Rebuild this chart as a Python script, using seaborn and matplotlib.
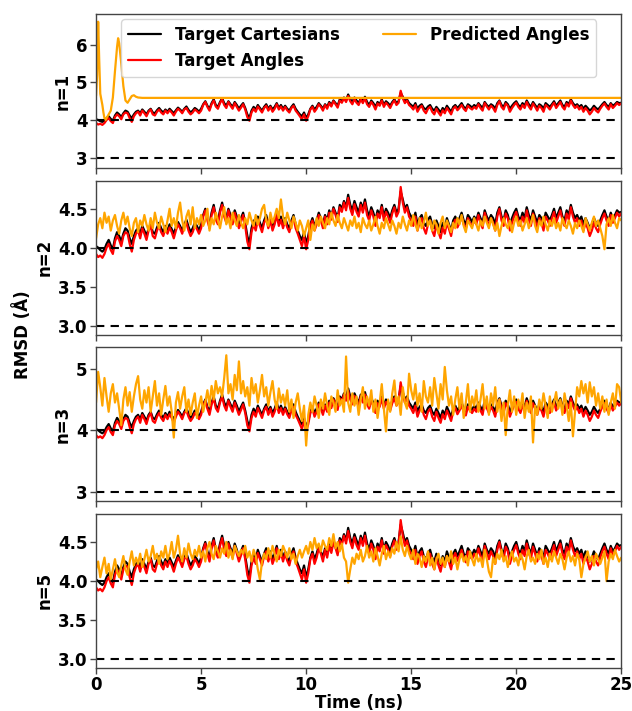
import numpy as np
import pandas as pd
import matplotlib
matplotlib.use("Agg")
import matplotlib.pyplot as plt
import seaborn as sns

# ---------------- data ----------------
time_ns = np.round(np.arange(251) * 0.1, 2)

target_cartesians = [
    4.02, 4.00, 3.97, 3.95, 3.98, 4.05, 4.10, 4.03, 3.98, 4.12,
    4.20, 4.15, 4.08, 4.18, 4.25, 4.22, 4.12, 4.05, 4.15, 4.22,
    4.25, 4.18, 4.28, 4.22, 4.15, 4.25, 4.30, 4.20, 4.18, 4.26,
    4.32, 4.25, 4.20, 4.28, 4.22, 4.30, 4.24, 4.18, 4.26, 4.33,
    4.28, 4.22, 4.30, 4.36, 4.27, 4.20, 4.25, 4.32, 4.28, 4.22,
    4.30, 4.42, 4.50, 4.38, 4.30, 4.45, 4.55, 4.40, 4.35, 4.48,
    4.58, 4.45, 4.38, 4.50, 4.42, 4.35, 4.48, 4.40, 4.30, 4.38,
    4.45, 4.32, 4.15, 4.05, 4.25, 4.35, 4.28, 4.40, 4.32, 4.25,
    4.35, 4.42, 4.30, 4.38, 4.28, 4.35, 4.45, 4.32, 4.40, 4.30,
    4.38, 4.30, 4.25, 4.35, 4.42, 4.30, 4.22, 4.15, 4.10, 4.20,
    4.05, 4.15, 4.30, 4.38, 4.28, 4.35, 4.45, 4.38, 4.30, 4.42,
    4.35, 4.48, 4.40, 4.52, 4.45, 4.38, 4.55, 4.50, 4.60, 4.52,
    4.68, 4.55, 4.48, 4.60, 4.52, 4.45, 4.58, 4.50, 4.62, 4.48,
    4.40, 4.52, 4.45, 4.35, 4.48, 4.42, 4.55, 4.40, 4.50, 4.45,
    4.38, 4.48, 4.55, 4.45, 4.50, 4.72, 4.62, 4.50, 4.55, 4.45,
    4.40, 4.35, 4.45, 4.30, 4.38, 4.42, 4.32, 4.28, 4.36, 4.40,
    4.30, 4.25, 4.35, 4.28, 4.20, 4.32, 4.25, 4.38, 4.30, 4.22,
    4.35, 4.40, 4.32, 4.38, 4.45, 4.35, 4.30, 4.42, 4.38, 4.33,
    4.40, 4.35, 4.45, 4.38, 4.32, 4.48, 4.40, 4.35, 4.42, 4.38,
    4.30, 4.45, 4.52, 4.40, 4.35, 4.48, 4.42, 4.30, 4.38, 4.45,
    4.50, 4.40, 4.35, 4.45, 4.38, 4.52, 4.42, 4.35, 4.48, 4.40,
    4.32, 4.42, 4.38, 4.30, 4.45, 4.40, 4.35, 4.42, 4.50, 4.38,
    4.45, 4.52, 4.40, 4.35, 4.48, 4.42, 4.55, 4.45, 4.38, 4.42,
    4.35, 4.40, 4.30, 4.38, 4.32, 4.25, 4.30, 4.38, 4.32, 4.28,
    4.35, 4.42, 4.48, 4.40, 4.35, 4.45, 4.38, 4.42, 4.48, 4.45, 4.46,
]

target_angles = [
    3.92, 3.88, 3.90, 3.87, 3.92, 4.00, 4.05, 3.97, 3.92, 4.08,
    4.15, 4.10, 4.02, 4.15, 4.20, 4.18, 4.05, 3.95, 4.10, 4.18,
    4.22, 4.12, 4.25, 4.18, 4.10, 4.22, 4.28, 4.15, 4.12, 4.22,
    4.28, 4.20, 4.15, 4.25, 4.18, 4.26, 4.20, 4.12, 4.22, 4.30,
    4.25, 4.18, 4.28, 4.32, 4.22, 4.15, 4.20, 4.28, 4.24, 4.18,
    4.25, 4.40, 4.48, 4.35, 4.25, 4.42, 4.52, 4.36, 4.30, 4.45,
    4.55, 4.40, 4.32, 4.48, 4.38, 4.30, 4.45, 4.35, 4.25, 4.33,
    4.42, 4.28, 4.08, 3.98, 4.20, 4.30, 4.22, 4.36, 4.28, 4.20,
    4.32, 4.38, 4.25, 4.35, 4.22, 4.30, 4.42, 4.28, 4.36, 4.25,
    4.35, 4.26, 4.20, 4.32, 4.38, 4.25, 4.18, 4.10, 4.02, 4.15,
    3.98, 4.10, 4.28, 4.35, 4.22, 4.30, 4.42, 4.35, 4.25, 4.40,
    4.30, 4.45, 4.36, 4.50, 4.42, 4.33, 4.52, 4.46, 4.58, 4.48,
    4.64, 4.50, 4.42, 4.56, 4.46, 4.40, 4.55, 4.45, 4.58, 4.42,
    4.35, 4.48, 4.40, 4.28, 4.44, 4.38, 4.52, 4.35, 4.46, 4.40,
    4.32, 4.44, 4.52, 4.40, 4.46, 4.78, 4.58, 4.45, 4.52, 4.40,
    4.35, 4.28, 4.40, 4.22, 4.32, 4.38, 4.25, 4.18, 4.30, 4.35,
    4.22, 4.15, 4.30, 4.20, 4.12, 4.26, 4.18, 4.32, 4.24, 4.15,
    4.30, 4.36, 4.26, 4.32, 4.40, 4.30, 4.24, 4.38, 4.32, 4.28,
    4.35, 4.30, 4.42, 4.32, 4.25, 4.45, 4.36, 4.28, 4.38, 4.32,
    4.22, 4.40, 4.50, 4.35, 4.28, 4.44, 4.38, 4.22, 4.32, 4.40,
    4.46, 4.35, 4.28, 4.40, 4.32, 4.48, 4.36, 4.28, 4.44, 4.35,
    4.25, 4.38, 4.32, 4.22, 4.40, 4.35, 4.28, 4.38, 4.46, 4.32,
    4.40, 4.48, 4.35, 4.28, 4.44, 4.36, 4.52, 4.40, 4.32, 4.38,
    4.28, 4.35, 4.22, 4.32, 4.25, 4.15, 4.22, 4.32, 4.25, 4.20,
    4.30, 4.38, 4.44, 4.35, 4.28, 4.42, 4.32, 4.38, 4.45, 4.40, 4.44,
]

# Predicted angles, n=1 (smooth curve, own time grid)
pred_n1_time = [0.0, 0.05, 0.1, 0.15, 0.2, 0.25, 0.3, 0.35, 0.4, 0.45, 0.5,
                0.6, 0.7, 0.8, 0.9, 1.0, 1.05, 1.1, 1.2, 1.3, 1.4, 1.5,
                1.6, 1.7, 1.8, 1.9, 2.0, 2.2, 2.5, 3.0, 5.0, 10.0, 15.0, 20.0, 25.0]
pred_n1 = [4.65, 5.20, 6.62, 5.60, 4.70, 4.55, 4.40, 4.20, 4.05, 4.00, 4.05,
           4.15, 4.25, 4.60, 5.30, 5.95, 6.18, 6.05, 5.50, 4.90, 4.52, 4.46,
           4.55, 4.64, 4.66, 4.62, 4.60, 4.59, 4.59, 4.59, 4.59, 4.59, 4.59, 4.59, 4.59]

pred_n2 = [
    4.12, 4.30, 4.38, 4.25, 4.45, 4.32, 4.40, 4.22, 4.35, 4.42,
    4.28, 4.18, 4.35, 4.45, 4.30, 4.40, 4.25, 4.15, 4.32, 4.38,
    4.20, 4.35, 4.28, 4.42, 4.30, 4.22, 4.38, 4.25, 4.45, 4.32,
    4.25, 4.40, 4.30, 4.20, 4.35, 4.50, 4.28, 4.38, 4.25, 4.45,
    4.58, 4.35, 4.22, 4.40, 4.48, 4.30, 4.52, 4.25, 4.38, 4.30,
    4.42, 4.28, 4.35, 4.50, 4.22, 4.38, 4.30, 4.45, 4.35, 4.25,
    4.40, 4.52, 4.30, 4.38, 4.25, 4.45, 4.35, 4.28, 4.42, 4.32,
    4.25, 4.38, 4.30, 4.45, 4.35, 4.28, 4.42, 4.30, 4.38, 4.50,
    4.55, 4.35, 4.28, 4.45, 4.32, 4.40, 4.50, 4.38, 4.62, 4.40,
    4.30, 4.45, 4.35, 4.25, 4.40, 4.32, 4.22, 4.35, 4.28, 4.15,
    4.25, 4.35, 4.10, 4.30, 4.22, 4.38, 4.28, 4.40, 4.32, 4.25,
    4.38, 4.30, 4.45, 4.35, 4.28, 4.42, 4.32, 4.25, 4.38, 4.30,
    4.22, 4.35, 4.28, 4.40, 4.25, 4.32, 4.20, 4.38, 4.30, 4.25,
    4.35, 4.22, 4.30, 4.40, 4.28, 4.18, 4.32, 4.25, 4.38, 4.30,
    4.22, 4.35, 4.28, 4.18, 4.32, 4.25, 4.40, 4.30, 4.22, 4.35,
    4.28, 4.42, 4.30, 4.22, 4.38, 4.25, 4.32, 4.45, 4.28, 4.35,
    4.22, 4.35, 4.30, 4.18, 4.32, 4.40, 4.25, 4.35, 4.28, 4.20,
    4.32, 4.25, 4.38, 4.30, 4.42, 4.28, 4.20, 4.35, 4.30, 4.25,
    4.38, 4.30, 4.22, 4.35, 4.28, 4.40, 4.32, 4.25, 4.38, 4.30,
    4.22, 4.32, 4.15, 4.28, 4.38, 4.30, 4.25, 4.35, 4.20, 4.32,
    4.40, 4.28, 4.35, 4.22, 4.30, 4.38, 4.25, 4.32, 4.42, 4.28,
    4.20, 4.35, 4.28, 4.40, 4.30, 4.22, 4.35, 4.28, 4.38, 4.25,
    4.32, 4.22, 4.38, 4.30, 4.25, 4.35, 4.28, 4.18, 4.32, 4.25,
    4.35, 4.28, 4.20, 4.38, 4.30, 4.22, 4.32, 4.40, 4.28, 4.35,
    4.25, 4.15, 3.98, 4.30, 4.38, 4.28, 4.42, 4.32, 4.25, 4.38, 4.35,
]

pred_n3 = [
    4.45, 4.95, 4.70, 4.40, 4.85, 4.55, 4.30, 4.60, 4.75, 4.45,
    4.60, 4.35, 4.08, 4.50, 4.70, 4.40, 4.62, 4.30, 4.55, 4.75,
    4.88, 4.50, 4.35, 4.65, 4.45, 4.70, 4.30, 4.55, 4.80, 4.40,
    4.60, 4.25, 4.50, 4.72, 4.40, 4.55, 4.30, 3.88, 4.45, 4.62,
    4.35, 4.55, 4.70, 4.30, 4.50, 4.25, 4.45, 4.60, 4.20, 4.40,
    4.55, 4.30, 4.45, 4.65, 4.40, 4.72, 4.50, 4.80, 4.60, 4.70,
    4.55, 4.85, 5.22, 4.60, 4.75, 4.50, 4.90, 4.65, 5.12, 4.60,
    4.80, 4.55, 4.70, 4.40, 4.85, 4.60, 4.75, 4.45, 4.65, 4.90,
    4.55, 4.70, 4.40, 4.62, 4.80, 4.50, 4.35, 4.68, 4.45, 4.58,
    4.40, 4.65, 4.30, 4.50, 4.20, 4.45, 4.60, 4.35, 4.15, 4.40,
    3.75, 4.25, 4.45, 4.30, 4.55, 4.40, 4.20, 4.50, 4.35, 4.60,
    4.40, 4.25, 4.55, 4.45, 4.30, 4.65, 4.40, 4.50, 4.30, 5.20,
    4.45, 4.30, 4.60, 4.40, 4.55, 4.25, 4.50, 4.70, 4.35, 4.55,
    4.40, 4.65, 4.30, 4.50, 4.20, 4.45, 4.75, 4.35, 3.98, 4.50,
    4.30, 4.60, 4.81, 4.40, 4.55, 4.25, 4.70, 4.45, 4.35, 4.92,
    4.65, 4.50, 4.75, 4.40, 4.60, 4.30, 4.80, 4.55, 4.45, 4.70,
    4.40, 4.85, 4.60, 4.35, 4.75, 4.50, 5.03, 4.65, 4.40, 4.55,
    4.25, 4.50, 4.70, 4.35, 4.60, 4.20, 4.45, 4.75, 4.30, 4.55,
    4.40, 4.65, 4.30, 4.50, 4.75, 4.35, 4.55, 4.25, 4.60, 4.40,
    4.70, 4.30, 4.50, 4.15, 4.45, 3.92, 4.40, 4.65, 4.30, 4.55,
    4.25, 4.50, 4.35, 4.60, 4.20, 4.45, 4.30, 4.55, 3.80, 4.40,
    4.25, 4.50, 4.35, 4.60, 4.40, 4.20, 4.55, 4.30, 4.45, 4.62,
    4.35, 4.50, 4.25, 4.60, 4.40, 4.15, 4.45, 3.90, 4.30, 4.70,
    4.55, 4.80, 4.60, 4.75, 4.45, 4.78, 4.55, 4.70, 4.40, 4.60,
    4.35, 4.55, 4.30, 4.50, 4.25, 4.45, 4.60, 4.35, 4.75, 4.70, 4.45,
]

pred_n5 = [
    4.15, 4.25, 4.05, 4.18, 4.30, 4.10, 4.22, 4.02, 4.15, 4.28,
    4.12, 4.05, 4.20, 4.32, 4.15, 4.08, 4.25, 4.38, 4.20, 4.30,
    4.22, 4.35, 4.18, 4.28, 4.40, 4.25, 4.32, 4.45, 4.28, 4.35,
    4.22, 4.38, 4.30, 4.45, 4.28, 4.35, 4.50, 4.30, 4.40, 4.58,
    4.35, 4.25, 4.42, 4.30, 4.48, 4.35, 4.28, 4.40, 4.32, 4.45,
    4.30, 4.38, 4.25, 4.42, 4.50, 4.35, 4.28, 4.45, 4.38, 4.30,
    4.42, 4.35, 4.50, 4.30, 4.40, 4.28, 4.45, 4.38, 4.32, 4.40,
    4.35, 4.45, 4.30, 4.38, 4.25, 4.40, 4.32, 4.15, 4.02, 4.25,
    4.35, 4.28, 4.42, 4.30, 4.45, 4.35, 4.25, 4.40, 4.32, 4.45,
    4.38, 4.30, 4.42, 4.28, 4.35, 4.22, 4.32, 4.40, 4.30, 4.38,
    4.45, 4.35, 4.50, 4.40, 4.55, 4.42, 4.48, 4.38, 4.52, 4.45,
    4.40, 4.55, 4.45, 4.60, 4.42, 4.50, 4.38, 4.48, 4.30, 4.25,
    3.98, 4.15, 4.30, 4.22, 4.35, 4.28, 4.40, 4.25, 4.32, 4.45,
    4.30, 4.38, 4.25, 4.42, 4.32, 4.20, 4.35, 4.45, 4.28, 4.38,
    4.30, 4.42, 4.35, 4.50, 4.38, 4.57, 4.40, 4.32, 4.45, 4.35,
    4.28, 4.40, 4.22, 4.35, 4.30, 4.18, 4.32, 4.25, 4.38, 4.20,
    4.30, 4.15, 4.28, 4.35, 4.22, 4.30, 4.18, 4.32, 4.25, 4.38,
    4.22, 4.30, 4.15, 4.28, 4.35, 4.25, 4.32, 4.20, 4.38, 4.28,
    4.20, 4.35, 4.25, 4.30, 4.18, 4.40, 4.28, 4.12, 4.05, 4.30,
    4.22, 4.35, 4.28, 4.40, 4.25, 4.32, 4.18, 4.30, 4.38, 4.25,
    4.30, 4.20, 4.35, 4.28, 4.15, 4.32, 4.40, 4.25, 4.30, 4.22,
    4.35, 4.28, 4.40, 4.22, 4.30, 4.18, 4.35, 4.25, 4.38, 4.30,
    4.22, 4.35, 4.28, 4.15, 4.30, 4.38, 4.25, 4.32, 4.20, 4.35,
    4.28, 4.05, 4.22, 4.30, 4.38, 4.25, 4.32, 4.20, 4.35, 4.28,
    4.22, 4.30, 4.38, 4.00, 4.25, 4.35, 4.28, 4.40, 4.32, 4.25, 4.30,
]

panel_labels = ["n=1", "n=2", "n=3", "n=5"]
predicted_series = [(pred_n1_time, pred_n1), (time_ns, pred_n2), (time_ns, pred_n3), (time_ns, pred_n5)]
panel_ylims = [(2.71, 6.82), (2.88, 4.86), (2.84, 5.35), (2.89, 4.86)]
panel_yticks = [[3, 4, 5, 6], [3.0, 3.5, 4.0, 4.5], [3, 4, 5], [3.0, 3.5, 4.0, 4.5]]
panel_ytick_labels = [["3", "4", "5", "6"], ["3.0", "3.5", "4.0", "4.5"], ["3", "4", "5"], ["3.0", "3.5", "4.0", "4.5"]]
ref_levels = [4.0, 3.0]
x_ticks = [0, 5, 10, 15, 20, 25]

# ---------------- plot ----------------
sns.set_theme(style="ticks")
plt.rcParams["font.family"] = ["DejaVu Sans"]
plt.rcParams["font.weight"] = "bold"
plt.rcParams["axes.labelweight"] = "bold"
plt.rcParams["text.color"] = "black"
plt.rcParams["axes.labelcolor"] = "black"
plt.rcParams["xtick.color"] = "black"
plt.rcParams["ytick.color"] = "black"

fig, axes = plt.subplots(4, 1, figsize=(6.32, 7.11), dpi=100, sharex=True)
fig.subplots_adjust(left=0.152, right=0.983, top=0.980, bottom=0.0605, hspace=0.08)

df_t = pd.DataFrame({"time": time_ns, "cart": target_cartesians, "ang": target_angles})

for i, ax in enumerate(axes):
    sns.lineplot(data=df_t, x="time", y="cart", ax=ax, color="black", linewidth=1.6,
                 label="Target Cartesians" if i == 0 else None, legend=False)
    sns.lineplot(data=df_t, x="time", y="ang", ax=ax, color="red", linewidth=1.6,
                 label="Target Angles" if i == 0 else None, legend=False)
    pt, pv = predicted_series[i]
    sns.lineplot(x=pt, y=pv, ax=ax, color="orange", linewidth=1.6,
                 label="Predicted Angles" if i == 0 else None, legend=False)
    for lv in ref_levels:
        ax.axhline(lv, color="black", linestyle="--", linewidth=1.5, dashes=(4, 3))
    ax.set_xlim(0, 25)
    ax.set_ylim(*panel_ylims[i])
    ax.set_yticks(panel_yticks[i])
    ax.set_yticklabels(panel_ytick_labels[i], fontsize=12, fontweight="bold", color="black")
    ax.set_ylabel(panel_labels[i], fontsize=12, fontweight="bold", color="black", labelpad=3)
    ax.set_xlabel("")
    for sp in ax.spines.values():
        sp.set_color("#444444")
        sp.set_linewidth(1.0)
    ax.tick_params(axis="both", length=4, width=1, color="#444444", labelsize=12, pad=2)

axes[-1].set_xticks(x_ticks)
axes[-1].set_xticklabels([str(v) for v in x_ticks], fontsize=12, fontweight="bold", color="black")
axes[-1].set_xlabel("Time (ns)", fontsize=12, fontweight="bold", color="black", labelpad=0)

handles, labels = axes[0].get_legend_handles_labels()
leg = axes[0].legend(handles, labels, loc="upper center", ncol=2, frameon=True,
                     prop={"weight": "bold", "size": 12}, columnspacing=2.6,
                     borderaxespad=0.3, handlelength=2.0)
for t in leg.get_texts():
    t.set_color("black")

fig.text(0.035, 0.529, "RMSD (Å)", rotation=90, va="center", ha="center",
         fontsize=12, fontweight="bold", color="black")

fig.savefig("out.png", dpi=100)
